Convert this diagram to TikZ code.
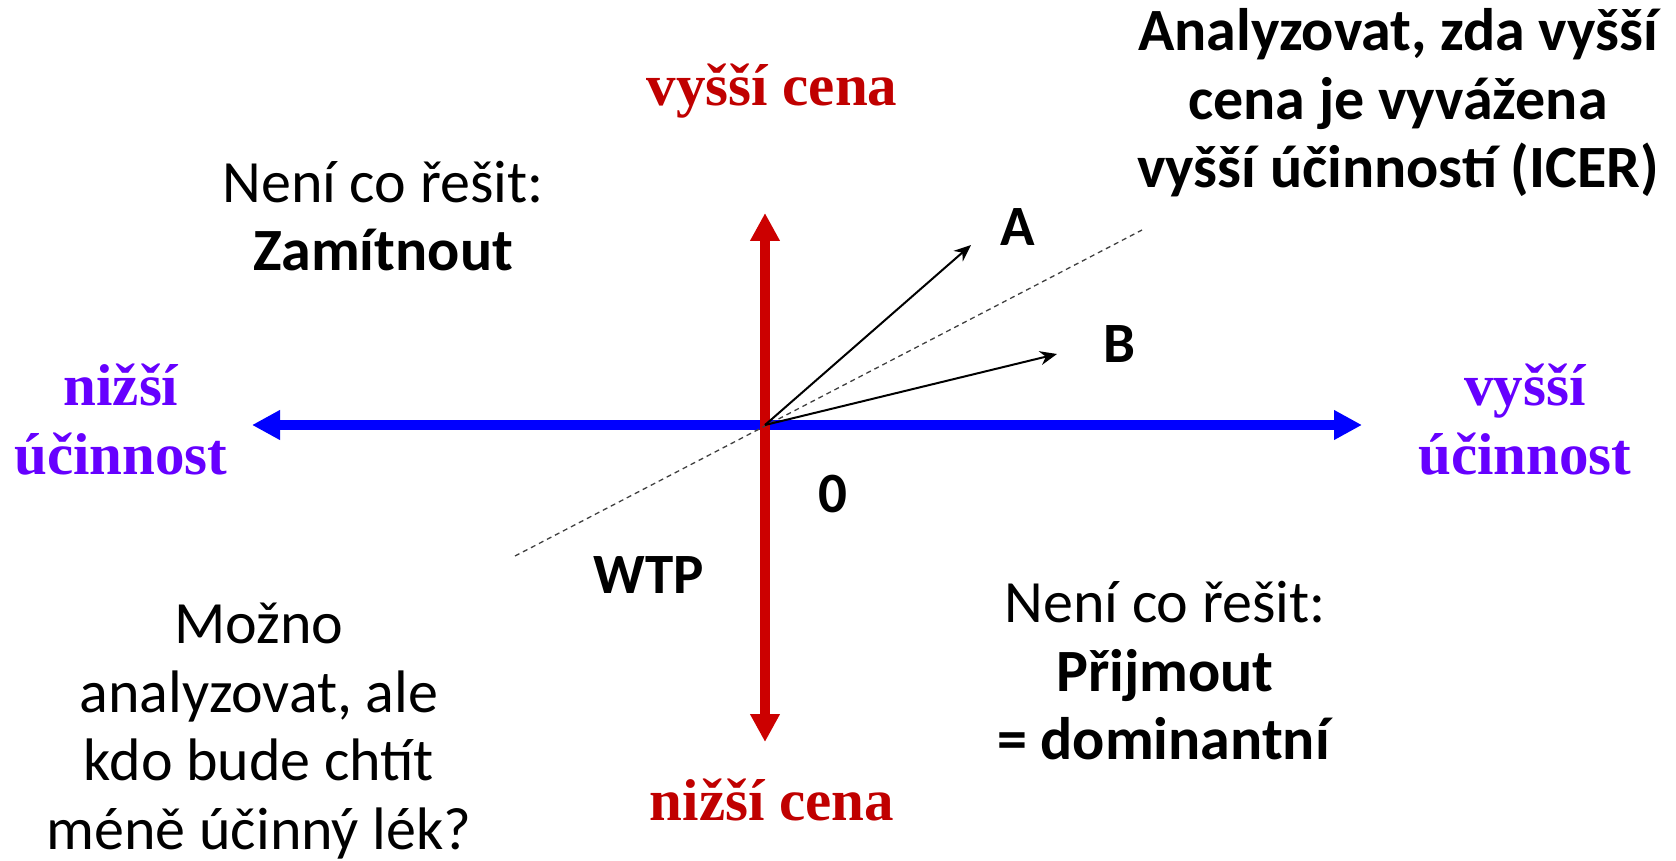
\documentclass[tikz,border=0pt]{standalone}
\usepackage{fontspec}
\setmainfont{Carlito}
\newfontfamily\serifbold{Liberation Serif}
\usetikzlibrary{arrows.meta, positioning}
\definecolor{axisred}{HTML}{CC0000}
\definecolor{axisblue}{HTML}{0000FF}
\definecolor{effviolet}{HTML}{6600FF}
\definecolor{pricered}{HTML}{C00000}

\begin{document}
\begin{tikzpicture}[
    x=1pt, y=-1pt,
    every node/.style={inner sep=0pt, align=center},
    note/.style={font=\fontsize{60}{68.5}\selectfont},
    mark label/.style={font=\bfseries\fontsize{57}{68}\selectfont},
    axislabel/.style={font=\serifbold\bfseries\fontsize{59}{69}\selectfont},
    bigaxis/.style={line width=10pt, {Triangle[length=28pt, width=28pt]}-{Triangle[length=28pt, width=28pt]}},
    drug/.style={line width=2pt, -{Stealth[length=17pt, width=14pt]}},
    wtp/.style={line width=1.3pt, black!75, dash pattern=on 5pt off 4pt},
]
\useasboundingbox (0,0) rectangle (1676,861);

% ── Axes ─────────────────────────────────────────────────────────────────────
\coordinate (o)     at (765,425);
\coordinate (top)   at (765,213);
\coordinate (bot)   at (765,742);
\coordinate (left)  at (252,425);
\coordinate (right) at (1362,425);
\draw[bigaxis, axisblue] (left) -- (right);
\draw[bigaxis, axisred]  (bot) -- (top);

% ── WTP threshold and drugs A, B ─────────────────────────────────────────────
\coordinate (wtplo) at (515,556);
\coordinate (wtphi) at (1142,230);
\draw[wtp] (wtplo) -- (wtphi);
\coordinate (a) at (971,245);
\coordinate (b) at (1057,354);
\draw[drug] (o) -- (a);
\draw[drug] (o) -- (b);
\node[mark label] (alab) at (1018,227) {A};
\node[mark label] (blab) at (1119,344) {B};
\node[mark label] (zero) at (833,494) {0};
\node[mark label] (wtplab) at (649,575) {WTP};

% ── Axis labels ──────────────────────────────────────────────────────────────
\node[axislabel, text=pricered]  (pricehi) at (772,91)   {vyšší cena};
\node[axislabel, text=pricered]  (pricelo) at (772,800)  {nižší cena};
\node[axislabel, text=effviolet] (efflo)   at (121,420)  {nižší\\účinnost};
\node[axislabel, text=effviolet] (effhi)   at (1525,420) {vyšší\\účinnost};

% ── Quadrant notes ───────────────────────────────────────────────────────────
\node[note] (reject) at (383,216) {Není co řešit:\\\textbf{Zamítnout}};
\node[note, font=\bfseries\fontsize{60}{68.5}\selectfont] (icer) at (1398,103)
      {Analyzovat, zda vyšší\\cena je vyvážena\\vyšší účinností (ICER)};
\node[note] (accept) at (1165,671) {Není co řešit:\\\textbf{Přijmout}\\\textbf{= dominantní}};
\node[note] (maybe) at (259,731) {Možno\\analyzovat, ale\\kdo bude chtít\\méně účinný lék?};

\end{tikzpicture}
\end{document}
